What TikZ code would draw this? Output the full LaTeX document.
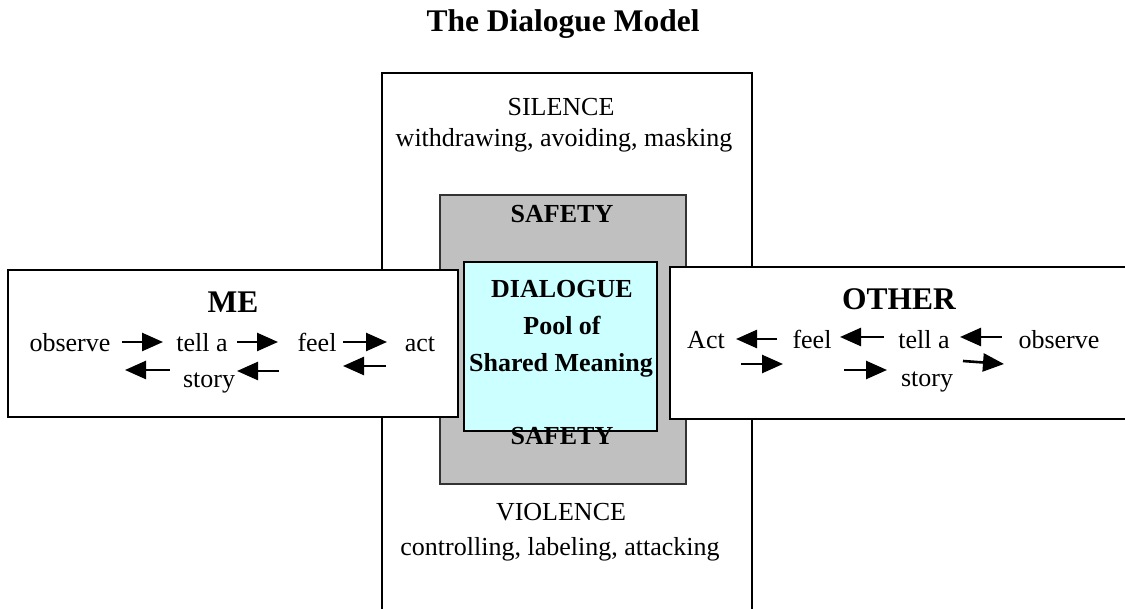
\documentclass[tikz,border=0pt]{standalone}
\usepackage{fontspec}
\setmainfont{Liberation Serif}
\usetikzlibrary{arrows.meta}

\definecolor{safetygray}{HTML}{C0C0C0}
\definecolor{poolcyan}{HTML}{CCFFFF}

\begin{document}
\begin{tikzpicture}[
        x=1pt, y=-1pt,
        panel/.style={draw, line width=2.6pt, fill=white},
        word/.style={anchor=base, inner sep=0pt, font=\fontsize{26}{30}\selectfont},
        heading/.style={anchor=base, inner sep=0pt, font=\fontsize{31.5}{36}\selectfont\bfseries},
        boldword/.style={anchor=base, inner sep=0pt, font=\fontsize{26}{30}\selectfont\bfseries},
        flow/.style={-{Triangle[length=21pt, width=18pt]}, line width=2.6pt}
    ]
    \clip (0,0) rectangle (1125,609);

    % Outer vertical panel (open at the bottom)
    \fill[white] (382,73) rectangle (752,620);
    \draw[line width=2.6pt] (382,620) -- (382,73) -- (752,73) -- (752,620);

    % Safety and pool
    \draw[line width=2pt, draw=black!80, fill=safetygray] (440,195) rectangle (686,484);

    % Side panels
    \draw[panel] (8,270) rectangle (458,417);
    \draw[panel] (670,267) rectangle (1140,419);

    \draw[line width=2.6pt, fill=poolcyan] (464,262) rectangle (657,431);

    % Title
    \node[heading] (title) at (563,32) {The Dialogue Model};

    % Silence / violence
    \node[word] (silence) at (561,116) {SILENCE};
    \node[word] (withdraw) at (564,147) {withdrawing, avoiding, masking};
    \node[word] (violence) at (561,520) {VIOLENCE};
    \node[word] (control) at (560,555) {controlling, labeling, attacking};

    % Centre
    \node[boldword] (safetytop) at (562,223) {SAFETY};
    \node[boldword] (dialogue) at (562,298) {DIALOGUE};
    \node[boldword] (pool) at (562,335) {Pool of};
    \node[boldword] (shared) at (561,372) {Shared Meaning};
    \node[boldword] (safetybot) at (562,445) {SAFETY};

    % ME
    \node[heading] (me) at (233,313) {ME};
    \node[word] (meobs) at (70,352) {observe};
    \node[word] (metell) at (202,352) {tell a};
    \node[word] (mefeel) at (317,352) {feel};
    \node[word] (meact) at (420,352) {act};
    \node[word] (mestory) at (209,388) {story};

    % OTHER
    \node[heading] (other) at (899,310) {OTHER};
    \node[word] (otact) at (706,349) {Act};
    \node[word] (otfeel) at (812,349) {feel};
    \node[word] (ottell) at (924,349) {tell a};
    \node[word] (otobs) at (1059,349) {observe};
    \node[word] (otstory) at (927,387) {story};

    % Arrow ends, ME
    \coordinate (ma1) at (122,342); \coordinate (mb1) at (163,342);
    \coordinate (ma2) at (237,342); \coordinate (mb2) at (278,342);
    \coordinate (ma3) at (343,342); \coordinate (mb3) at (387,342);
    \coordinate (ma4) at (170,370); \coordinate (mb4) at (125,370);
    \coordinate (ma5) at (279,371); \coordinate (mb5) at (237,371);
    \coordinate (ma6) at (386,366); \coordinate (mb6) at (343,366);

    % Arrow ends, OTHER
    \coordinate (oa1) at (777,339); \coordinate (ob1) at (736,339);
    \coordinate (oa2) at (884,337); \coordinate (ob2) at (840,337);
    \coordinate (oa3) at (1002,337); \coordinate (ob3) at (960,337);
    \coordinate (oa4) at (741,364); \coordinate (ob4) at (783,364);
    \coordinate (oa5) at (844,370); \coordinate (ob5) at (887,370);
    \coordinate (oa6) at (963,361); \coordinate (ob6) at (1004,364);

    \foreach \i in {1,...,6} {
        \draw[flow] (ma\i) -- (mb\i);
        \draw[flow] (oa\i) -- (ob\i);
    }
\end{tikzpicture}
\end{document}
